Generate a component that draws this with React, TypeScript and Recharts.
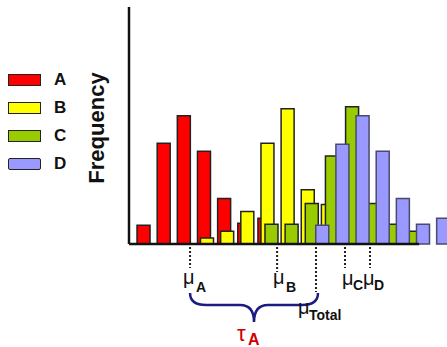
import React from 'react';
import { ComposedChart, Bar, XAxis, YAxis, ReferenceLine, ReferenceArea, Legend } from 'recharts';

// bin centres and counts for each group (bins are one unit wide)
const binsA = [0.7, 1.7, 2.7, 3.7, 4.7, 5.7, 6.7, 7.7];
const countsA = [9.5, 51, 65, 47, 23, 10.5, 13, null];

const binsB = [3.85, 4.85, 5.85, 6.85, 7.85, 8.85, 9.85, 10.85];
const countsB = [3, 6.5, 16.5, 51, 68.5, 27.5, 20, null];

const binsC = [7.05, 8.05, 9.05, 10.05, 11.05, 12.05, 13.05, 14.05];
const countsC = [10, 10, 20.5, 44.5, 69.5, 20.5, 10, 6.5];

const binsD = [9.57, 10.57, 11.57, 12.57, 13.57, 14.57, 15.57, 16.57];
const countsD = [9.5, 50.5, 65, 47, 23, 10, 13, null];

// group means and the overall mean
const meanNames = ['A', 'B', 'C', 'D', 'Total'];
const meanValues = [3.03, 7.35, 10.72, 11.96, 9.28];

const series = [
  { key: 'A', bins: binsA, counts: countsA, fill: '#ff0000', stroke: '#222' },
  { key: 'B', bins: binsB, counts: countsB, fill: '#ffff00', stroke: '#222' },
  { key: 'C', bins: binsC, counts: countsC, fill: '#99cc00', stroke: '#222' },
  { key: 'D', bins: binsD, counts: countsD, fill: '#9999ff', stroke: '#4a4a6e' },
];

const rows = binsA.map((_, i) => {
  const row: Record<string, number | null> = {};
  series.forEach((s) => {
    row['x' + s.key] = s.bins[i];
    row[s.key] = s.counts[i];
  });
  return row;
});

const FONT = '"Liberation Sans", Arial, sans-serif';

// where each mean marker puts its dotted drop line and μ label
const markerLayout: Record<string, { drop: number; dx: number; dy: number; subDx: number; subDy: number }> = {
  A: { drop: 24, dx: -7, dy: 40, subDx: 13, subDy: 8 },
  B: { drop: 28, dx: -4, dy: 40, subDx: 13, subDy: 8 },
  C: { drop: 24, dx: -3, dy: 41, subDx: 11, subDy: 5 },
  D: { drop: 24, dx: -7, dy: 41, subDx: 11, subDy: 5 },
  Total: { drop: 48, dx: -18, dy: 70, subDx: 11, subDy: 6 },
};

const renderMean = (p: any, name: string) => {
  const base = Math.max(p.y1, p.y2);
  const x = p.x1;
  const m = markerLayout[name];
  return (
    <g>
      <line x1={x} y1={base + 3} x2={x} y2={base + m.drop} stroke="#222" strokeWidth={2} strokeDasharray="2 2" />
      <text x={x + m.dx} y={base + m.dy} fontSize={20} fontFamily={FONT} fill="#111">μ</text>
      <text x={x + m.dx + m.subDx} y={base + m.dy + m.subDy} fontSize={14} fontWeight="bold" fontFamily={FONT} fill="#111">
        {name}
      </text>
    </g>
  );
};

// curly brace spanning the distance between group A's mean and the overall mean
const renderBrace = (p: any) => {
  const base = p.y + p.height;
  const left = p.x;
  const right = p.x + p.width + 2;
  const mid = (left + right) / 2;
  const top = base + 49;
  const flat = base + 61;
  const tip = base + 78;
  const d = `M${left},${top} Q${left},${flat} ${left + 16},${flat} L${mid - 14},${flat} Q${mid},${flat} ${mid},${tip} ` +
    `Q${mid},${flat} ${mid + 14},${flat} L${right - 16},${flat} Q${right},${flat} ${right},${top}`;
  return (
    <g>
      <path d={d} fill="none" stroke="#1c1c80" strokeWidth={2.5} />
      <text x={mid - 17} y={base + 97} fontSize={22} fontFamily={FONT} fill="#d00000">τ</text>
      <text x={mid - 6} y={base + 101} fontSize={16} fontWeight="bold" fontFamily={FONT} fill="#d00000">A</text>
    </g>
  );
};

const renderFreqLabel = (props: any) => {
  const { x, y, width, height } = props.viewBox;
  const cx = x + width - 25;
  const cy = y + height / 2 + 2.5;
  return (
    <text x={cx} y={cy} transform={`rotate(-90 ${cx} ${cy})`} textAnchor="middle" fontSize={22} fontWeight="bold" fontFamily={FONT} fill="#111">
      Frequency
    </text>
  );
};

const renderLegend = (props: any) => (
  <div style={{ fontFamily: FONT }}>
    {(props.payload || []).map((entry: any) => (
      <div key={entry.value} style={{ display: 'flex', alignItems: 'center', height: 13, marginBottom: 15.3 }}>
        <div style={{ width: 31, height: 10, background: entry.color, border: '1.5px solid #222', borderRadius: entry.value === 'D' ? 2 : 0 }} />
        <span style={{ marginLeft: 13, fontSize: 17, fontWeight: 'bold', color: '#111' }}>{entry.value}</span>
      </div>
    ))}
  </div>
);

export default function App() {
  return (
    <div style={{ position: 'absolute', left: 0, top: 0, width: 447, height: 347, overflow: 'hidden', background: '#fff', fontFamily: FONT }}>
      <ComposedChart width={480} height={347} data={rows} margin={{ top: 7, right: 8.45, bottom: 103, left: 128 }}>
        {series.map((s) => (
          <XAxis key={s.key} xAxisId={s.key} dataKey={'x' + s.key} type="number" domain={[0, 17]} hide />
        ))}
        <YAxis
          domain={[0, 120]}
          width={1}
          tick={false}
          tickLine={false}
          axisLine={{ stroke: '#111', strokeWidth: 2.5 }}
          label={{ content: renderFreqLabel }}
        />
        <Legend layout="vertical" align="center" verticalAlign="middle" wrapperStyle={{ left: 8, top: 73 }} content={renderLegend} />
        {series.map((s) => (
          <Bar
            key={s.key}
            xAxisId={s.key}
            dataKey={s.key}
            name={s.key}
            fill={s.fill}
            stroke={s.stroke}
            strokeWidth={1.5}
            barSize={13}
            isAnimationActive={false}
          />
        ))}
        <ReferenceLine xAxisId="A" segment={[{ x: 0, y: 0 }, { x: 14.39, y: 0 }]} stroke="#111" strokeWidth={2.5} />
        {meanNames.map((name, i) => (
          <ReferenceLine key={name} xAxisId="A" x={meanValues[i]} shape={(p: any) => renderMean(p, name)} />
        ))}
        <ReferenceArea xAxisId="A" x1={meanValues[0]} x2={meanValues[4]} shape={renderBrace} />
      </ComposedChart>
    </div>
  );
}
